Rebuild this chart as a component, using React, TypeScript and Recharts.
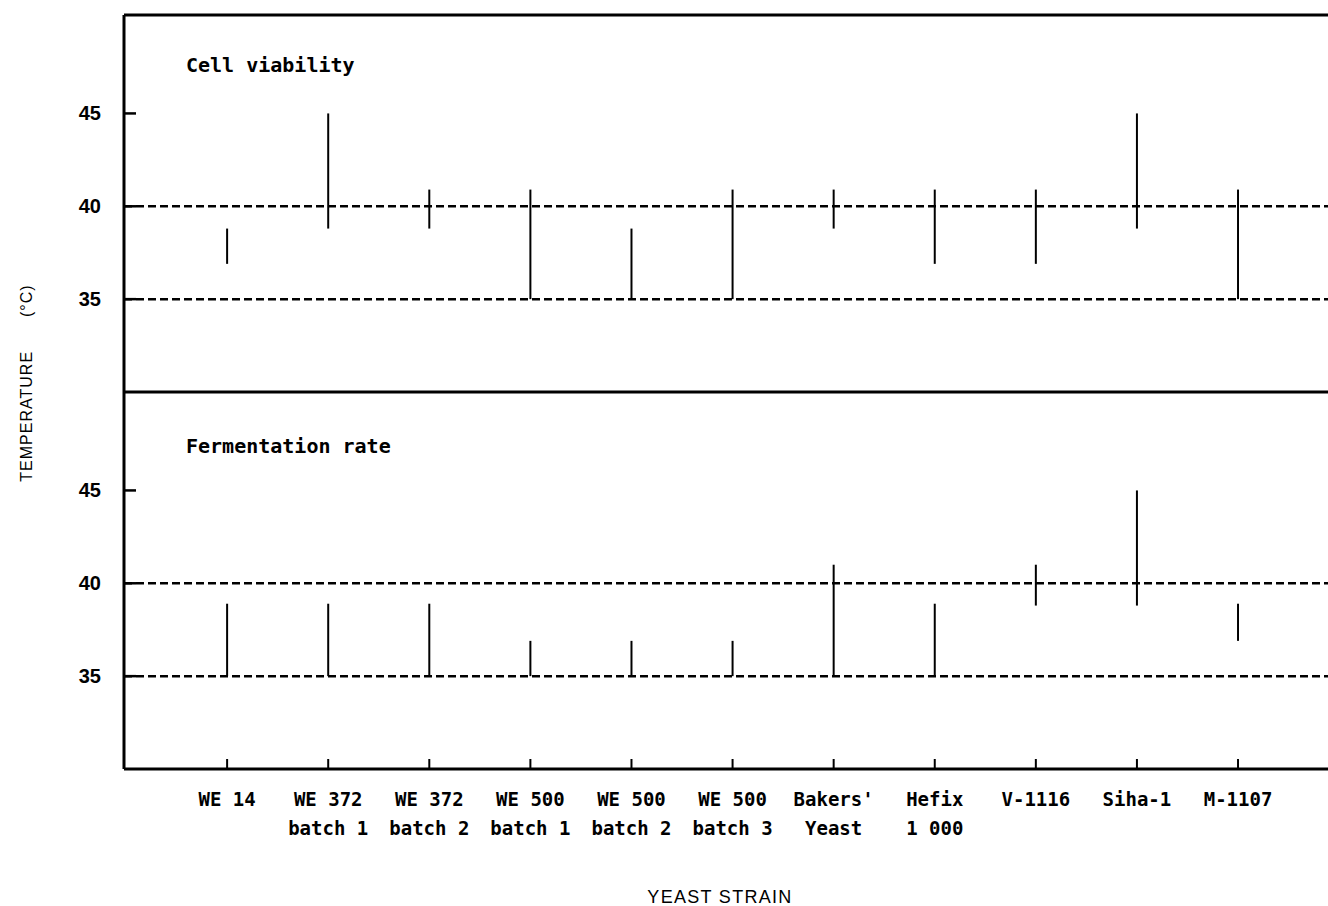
import { ComposedChart, ErrorBar, ReferenceLine, Scatter, XAxis, YAxis } from "recharts";

// category positions along the x axis
const strainPositions = [1, 2, 3, 4, 5, 6, 7, 8, 9, 10, 11];
const strainNames = ["WE 14", "WE 372", "WE 372", "WE 500", "WE 500", "WE 500", "Bakers'", "Hefix", "V-1116", "Siha-1", "M-1107"];
const strainDetails = ["", "batch 1", "batch 2", "batch 1", "batch 2", "batch 3", "Yeast", "1 000", "", "", ""];

// temperature ranges (°C)
const viabilityLow = [36.9, 38.8, 38.8, 35, 35, 35, 38.8, 36.9, 36.9, 38.8, 35];
const viabilityHigh = [38.8, 45, 40.9, 40.9, 38.8, 40.9, 40.9, 40.9, 40.9, 45, 40.9];
const fermentationLow = [35, 35, 35, 35, 35, 35, 35, 35, 38.8, 38.8, 36.9];
const fermentationHigh = [38.9, 38.9, 38.9, 36.9, 36.9, 36.9, 41, 38.9, 41, 45, 38.9];

const temperatureTicks = [35, 40, 45];
const guideTemps = [35, 40];

const X_DOMAIN: [number, number] = [-0.02, 11.89];
const Y_DOMAIN: [number, number] = [30, 50.3];
const MONO = "'DejaVu Sans Mono', monospace";
const SANS = "'Liberation Sans', Arial, sans-serif";

const toRows = (lo: number[], hi: number[]) =>
  strainPositions.map((x, i) => {
    const mid = (lo[i] + hi[i]) / 2;
    return { x, mid, err: [mid - lo[i], hi[i] - mid] };
  });

const YTick = (props: any) => {
  const { x, y, payload } = props;
  return (
    <g>
      <line x1={x} x2={x + 12} y1={y} y2={y} stroke="#000" strokeWidth={2.5} />
      <text x={x - 23} y={y + 7} textAnchor="end" fontFamily={SANS} fontWeight="bold" fontSize={20} fill="#000">
        {payload.value}
      </text>
    </g>
  );
};

const XTick = (props: any) => {
  const { x, y, payload } = props;
  const i = strainPositions.indexOf(payload.value);
  return (
    <g>
      <line x1={x} x2={x} y1={y} y2={y - 10} stroke="#000" strokeWidth={2} />
      <text x={x} y={y + 37} textAnchor="middle" fontFamily={MONO} fontWeight="bold" fontSize={19} fill="#000">
        {strainNames[i]}
      </text>
      <text x={x} y={y + 66} textAnchor="middle" fontFamily={MONO} fontWeight="bold" fontSize={19} fill="#000">
        {strainDetails[i]}
      </text>
    </g>
  );
};

const Panel = ({ lo, hi, bottom }: { lo: number[]; hi: number[]; bottom: boolean }) => (
  <ComposedChart
    width={1328}
    height={bottom ? 514 : 398}
    margin={{ top: bottom ? 0 : 15, right: 0, bottom: bottom ? 0 : 6, left: 0 }}
    data={toRows(lo, hi)}
  >
    <XAxis
      type="number"
      dataKey="x"
      domain={X_DOMAIN}
      ticks={strainPositions}
      interval={0}
      height={bottom ? 137 : 0}
      hide={!bottom}
      tickSize={0}
      tickMargin={0}
      tickLine={false}
      tick={<XTick />}
      axisLine={{ stroke: "#000", strokeWidth: 3 }}
    />
    <YAxis
      type="number"
      domain={Y_DOMAIN}
      allowDataOverflow
      ticks={temperatureTicks}
      width={124}
      tickSize={0}
      tickMargin={0}
      tickLine={false}
      tick={<YTick />}
      axisLine={{ stroke: "#000", strokeWidth: 3 }}
    />
    {/* frame: top border and the divider between the two panels */}
    {!bottom && <ReferenceLine y={Y_DOMAIN[1]} stroke="#000" strokeWidth={3} />}
    {!bottom && <ReferenceLine y={Y_DOMAIN[0]} stroke="#000" strokeWidth={3} />}
    {guideTemps.map((t) => (
      <ReferenceLine key={t} y={t} stroke="#000" strokeWidth={2.5} strokeDasharray="8 4" />
    ))}
    <Scatter dataKey="mid" isAnimationActive={false} shape={() => <g />}>
      <ErrorBar dataKey="err" direction="y" width={0} stroke="#000" strokeWidth={2} />
    </Scatter>
  </ComposedChart>
);

export default function App() {
  return (
    <div style={{ position: "fixed", left: 0, top: 0, width: 1328, height: 906, background: "#fff" }}>
      <div style={{ position: "absolute", left: 0, top: 0 }}>
        <Panel lo={viabilityLow} hi={viabilityHigh} bottom={false} />
      </div>
      <div style={{ position: "absolute", left: 0, top: 392 }}>
        <Panel lo={fermentationLow} hi={fermentationHigh} bottom />
      </div>
      <svg
        width={1328}
        height={906}
        style={{ position: "absolute", left: 0, top: 0, pointerEvents: "none" }}
      >
        <text x={186} y={72} fontFamily={MONO} fontWeight="bold" fontSize={20} fill="#000">
          Cell viability
        </text>
        <text x={186} y={453} fontFamily={MONO} fontWeight="bold" fontSize={20} fill="#000">
          Fermentation rate
        </text>
        <text
          x={32}
          y={383}
          transform="rotate(-90 32 383)"
          textAnchor="middle"
          fontFamily={SANS}
          fontSize={16}
          letterSpacing={1}
          fill="#000"
        >
          <tspan>TEMPERATURE</tspan>
          <tspan dx={34}>(°C)</tspan>
        </text>
        <text x={720} y={903} textAnchor="middle" fontFamily={SANS} fontSize={18} letterSpacing={1.3} fill="#000">
          YEAST STRAIN
        </text>
      </svg>
    </div>
  );
}
